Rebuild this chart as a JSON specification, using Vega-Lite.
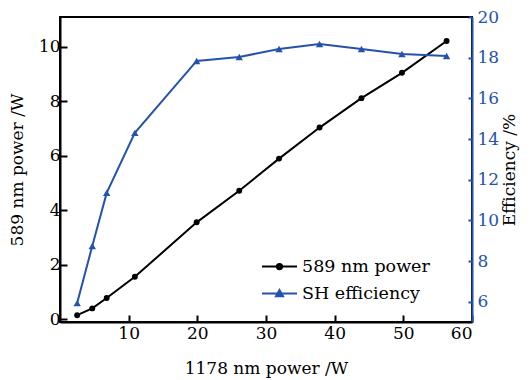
{
  "$schema": "https://vega.github.io/schema/vega-lite/v6.json",
  "width": 412,
  "height": 305,
  "autosize": "none",
  "padding": {"left": 60, "top": 17, "right": 59, "bottom": 58},
  "background": "white",
  "config": {
    "font": "DejaVu Serif",
    "view": {"stroke": "black", "strokeWidth": 2},
    "legend": {"labelFont": "DejaVu Serif"},
    "axis": {"grid": false, "labelFont": "DejaVu Serif", "titleFont": "DejaVu Serif", "labelFontSize": 17, "titleFontSize": 17, "titleFontWeight": "normal", "labelColor": "black", "titleColor": "black"}
  },
  "data": {
    "values": [
      {"x": 2.5, "series": "589 nm power", "v": 0.15},
      {"x": 4.7, "series": "589 nm power", "v": 0.4},
      {"x": 6.8, "series": "589 nm power", "v": 0.78},
      {"x": 10.9, "series": "589 nm power", "v": 1.56},
      {"x": 19.9, "series": "589 nm power", "v": 3.56},
      {"x": 26.1, "series": "589 nm power", "v": 4.72},
      {"x": 31.9, "series": "589 nm power", "v": 5.9},
      {"x": 37.8, "series": "589 nm power", "v": 7.04},
      {"x": 43.9, "series": "589 nm power", "v": 8.12},
      {"x": 49.8, "series": "589 nm power", "v": 9.05},
      {"x": 56.3, "series": "589 nm power", "v": 10.22},
      {"x": 2.5, "series": "SH efficiency", "v": 5.93},
      {"x": 4.7, "series": "SH efficiency", "v": 8.74},
      {"x": 6.8, "series": "SH efficiency", "v": 11.35},
      {"x": 10.9, "series": "SH efficiency", "v": 14.3},
      {"x": 19.9, "series": "SH efficiency", "v": 17.84},
      {"x": 26.1, "series": "SH efficiency", "v": 18.03},
      {"x": 31.9, "series": "SH efficiency", "v": 18.43},
      {"x": 37.8, "series": "SH efficiency", "v": 18.67},
      {"x": 43.9, "series": "SH efficiency", "v": 18.43},
      {"x": 49.8, "series": "SH efficiency", "v": 18.18},
      {"x": 56.3, "series": "SH efficiency", "v": 18.08}
    ]
  },
  "encoding": {
    "x": {"field": "x", "type": "quantitative", "scale": {"domain": [0, 60], "nice": false},
      "axis": {"title": "1178 nm power /W", "values": [10, 20, 30, 40, 50, 60], "domainColor": "black", "domainWidth": 2, "tickColor": "black", "tickWidth": 2, "tickSize": -7, "labelPadding": 10, "titlePadding": 19}},
    "color": {"field": "series", "type": "nominal",
      "scale": {"domain": ["589 nm power", "SH efficiency"], "range": ["black", "#2452ad"]},
      "legend": {"title": null, "orient": "none", "legendX": 201, "legendY": 231, "labelFontSize": 17.5, "labelFont": "DejaVu Serif", "labelColor": "black", "symbolSize": 1225, "symbolStrokeWidth": 2, "labelOffset": 4, "rowPadding": 0,
        "encode": {"symbols": {"update": {
          "shape": {"signal": "datum.value === '589 nm power' ? 'M-1,0H1M0.15,0A0.15,0.15 0 1,1 -0.15,0A0.15,0.15 0 1,1 0.15,0Z' : 'M-1,0H1M0,-0.2L0.2,0.15L-0.2,0.15Z'"},
          "fill": {"scale": "color", "field": "value"},
          "stroke": {"scale": "color", "field": "value"},
          "strokeWidth": {"value": 2}
        }}}}}
  },
  "layer": [
    {
      "transform": [{"filter": "datum.series === '589 nm power'"}],
      "mark": {"type": "line", "strokeWidth": 2, "point": {"filled": true, "size": 35, "shape": "circle"}},
      "encoding": {
        "y": {"field": "v", "type": "quantitative", "scale": {"domain": [-0.1, 11.1], "nice": false, "zero": false},
          "axis": {"title": "589 nm power /W", "orient": "left", "values": [0, 2, 4, 6, 8, 10], "domainColor": "black", "domainWidth": 2, "tickColor": "black", "tickWidth": 2, "tickSize": -7, "labelPadding": 7, "titlePadding": 12}}
      }
    },
    {
      "transform": [{"filter": "datum.series === 'SH efficiency'"}],
      "mark": {"type": "line", "strokeWidth": 2, "point": {"filled": true, "size": 55, "shape": "triangle-up"}},
      "encoding": {
        "y": {"field": "v", "type": "quantitative", "scale": {"domain": [5, 20], "nice": false, "zero": false},
          "axis": {"title": "Efficiency /%", "orient": "right", "titleAngle": 270, "values": [6, 8, 10, 12, 14, 16, 18, 20], "domainColor": "#2452ad", "domainWidth": 2, "tickColor": "#2452ad", "tickWidth": 2, "tickSize": -4, "labelColor": "#2452ad", "labelPadding": 9, "titlePadding": 20}}
      }
    }
  ],
  "resolve": {"scale": {"y": "independent"}}
}
